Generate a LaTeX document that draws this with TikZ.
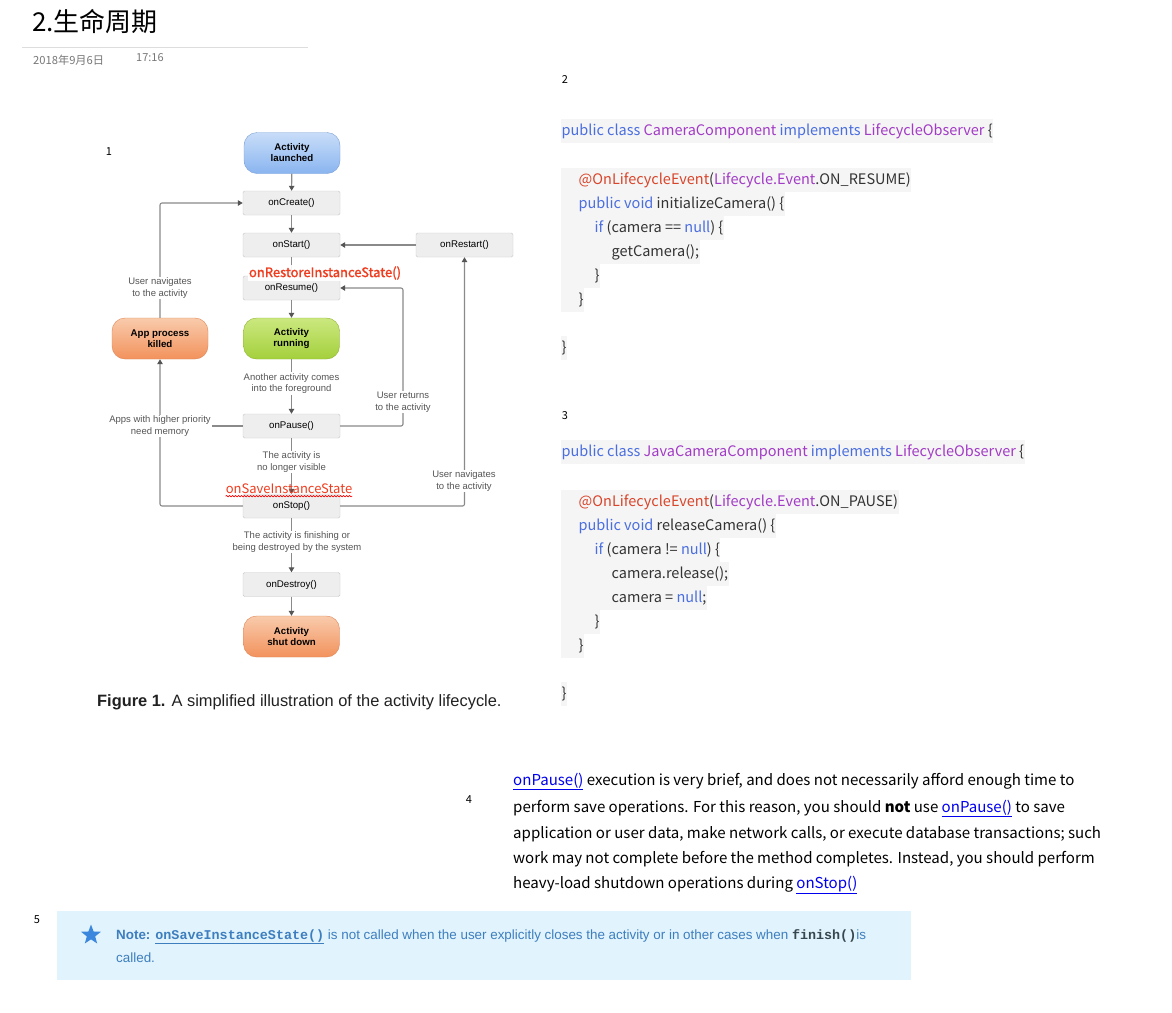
\documentclass[tikz,border=0pt]{standalone}
\usepackage{fontspec}
\setmainfont{Liberation Sans}
\newfontfamily\cjk{Noto Sans CJK SC}
\newfontfamily\cjkb[FakeBold=1.5]{Noto Sans CJK SC}
\newfontfamily\monof{Liberation Mono}
\usetikzlibrary{arrows.meta,shapes.geometric,calc,decorations.pathmorphing}
\definecolor{boxfill}{HTML}{EEEEEE}
\definecolor{boxline}{HTML}{C8C8C8}
\definecolor{linegray}{HTML}{8A8A8A}
\definecolor{tipgray}{HTML}{555555}
\definecolor{lblgray}{HTML}{555555}
\definecolor{kwblue}{HTML}{4A6EE0}
\definecolor{clspurple}{HTML}{A23BC6}
\definecolor{annred}{HTML}{D9452B}
\definecolor{plain}{HTML}{333333}
\definecolor{codebg}{HTML}{F5F5F5}
\definecolor{linkblue}{HTML}{0000EE}
\definecolor{notebg}{HTML}{E1F3FC}
\definecolor{notetext}{HTML}{3D7EBF}
\definecolor{starblue}{HTML}{3B87DD}
\definecolor{redlbl}{HTML}{F03C1E}
\definecolor{rulegray}{HTML}{DDDDDD}
\definecolor{dategray}{HTML}{777777}
\definecolor{captext}{HTML}{212121}
\definecolor{monodark}{HTML}{37474F}
\definecolor{bpline}{HTML}{7A9FD6}
\definecolor{bptop}{HTML}{C8DDF8}
\definecolor{bpbot}{HTML}{8AB4F0}
\definecolor{gpline}{HTML}{8FB22F}
\definecolor{gptop}{HTML}{CBE87F}
\definecolor{gpbot}{HTML}{A4D03C}
\definecolor{opline}{HTML}{E08454}
\definecolor{optop}{HTML}{F9CBAC}
\definecolor{opbot}{HTML}{F2925C}
\tikzset{
  box/.style={draw=boxline, fill=boxfill, rounded corners=1.5pt, minimum width=97pt, minimum height=24pt, inner sep=0pt, font=\fontsize{9.7}{11}\selectfont},
  pill/.style={draw, rounded corners=13pt, minimum width=96pt, minimum height=41pt, inner sep=0pt, align=center, font=\bfseries\fontsize{9.7}{11}\selectfont},
  bluepill/.style={pill, draw=bpline, top color=bptop, bottom color=bpbot},
  greenpill/.style={pill, draw=gpline, top color=gptop, bottom color=gpbot},
  orangepill/.style={pill, draw=opline, top color=optop, bottom color=opbot},
  lbl/.style={font=\fontsize{9.5}{11.8}\selectfont, text=lblgray, align=center, fill=white, inner sep=1pt},
  conn/.style={draw=linegray, line width=1.1pt, rounded corners=2pt},
  arr/.style={conn, -{Triangle[length=5pt,width=5.5pt,color=tipgray]}},
  codeln/.style={anchor=west, fill=codebg, inner ysep=0pt, inner xsep=0.5pt, minimum height=24pt, text=plain, font=\cjk\fontsize{14.5}{17}\selectfont},
  para/.style={anchor=base west, inner sep=0pt, font=\cjk\fontsize{15.05}{18}\selectfont, text=black},
  num/.style={font=\cjk\fontsize{11}{13}\selectfont, text=black, inner sep=0pt},
}
\newcommand{\kw}[1]{\textcolor{kwblue}{#1}}
\newcommand{\cls}[1]{\textcolor{clspurple}{#1}}
\newcommand{\ann}[1]{\textcolor{annred}{#1}}
\newcommand{\lnk}[1]{\textcolor{linkblue}{\underline{#1}}}
\begin{document}
\begin{tikzpicture}[x=1pt,y=-1pt]
\useasboundingbox[fill=white] (0,0) rectangle (1172,1012);

% ---------- header ----------
\node[anchor=west, inner sep=0pt, font=\cjk\fontsize{26}{30}\selectfont] (title) at (32,22) {2.生命周期};
\draw[rulegray, line width=0.8pt] (22,47) -- (308,47);
\node[anchor=west, inner sep=0pt, text=dategray, font=\cjk\fontsize{11.2}{13}\selectfont] (date) at (33,60) {2018年9月6日};
\node[anchor=west, inner sep=0pt, text=dategray, font=\cjk\fontsize{11}{13}\selectfont] (time) at (136,58) {17:16};

% ---------- numbers ----------
\node[num] (n1) at (109,152) {1};
\node[num] (n2) at (565,80) {2};
\node[num] (n3) at (565,416) {3};
\node[num] (n4) at (469,800) {4};
\node[num] (n5) at (37,920) {5};

% ---------- lifecycle diagram ----------
\node[bluepill] (launched) at (292,153) {Activity\\launched};
\node[box] (create) at (291.5,203) {onCreate()};
\node[box] (start) at (291.5,245) {onStart()};
\node[box] (restart) at (464.5,245) {onRestart()};
\node[box] (resume) at (291.5,288) {onResume()};
\node[greenpill] (running) at (291.5,338.5) {Activity\\running};
\node[orangepill] (killed) at (160,338.5) {App process\\killed};
\node[box] (pause) at (291.5,426) {onPause()};
\node[box] (stop) at (291.5,506) {onStop()};
\node[box] (destroy) at (291.5,584.5) {onDestroy()};
\node[orangepill] (shut) at (291.5,636.5) {Activity\\shut down};

\coordinate (rr) at (403,288);
\coordinate (pl) at (160,426);

\draw[arr] (launched) -- (create);
\draw[arr] (create) -- (start);
\draw[arr] (start) -- (resume);
\draw[arr] (resume) -- (running);
\draw[arr] (running) -- (pause);
\draw[arr] (pause) -- (stop);
\draw[arr] (stop) -- (destroy);
\draw[arr] (destroy) -- (shut);
\draw[arr] (restart) -- (start);
\draw[arr] (pause.east) -| (rr) -- (resume.east);
\draw[arr] (stop.east) -| (restart.south);
\draw[arr] (stop.west) -| (killed.south);
\draw[conn] (pause.west) -- (pl);
\draw[arr] (killed.north) |- (create.west);

\node[lbl] (l1) at (160,288) {User navigates\\to the activity};
\node[lbl] (l2) at (291.5,383.5) {Another activity comes\\into the foreground};
\node[lbl] (l3) at (403,402) {User returns\\to the activity};
\node[lbl] (l4) at (160,426) {Apps with higher priority\\need memory};
\node[lbl] (l5) at (291.5,462) {The activity is\\no longer visible};
\node[lbl] (l6) at (464,481) {User navigates\\to the activity};
\node[lbl] (l7) at (297,542) {The activity is finishing or\\being destroyed by the system};

\node[fill=white, fill opacity=0.9, text opacity=1, inner xsep=1pt, inner ysep=1.5pt, text=redlbl, font=\cjkb\fontsize{13}{14}\selectfont] (restore) at (325,273) {onRestoreInstanceState()};
\node[inner sep=0pt, text=redlbl, font=\cjk\fontsize{13}{14}\selectfont] (save) at (289,489) {onSaveInstanceState};
\draw[red, line width=0.6pt, decorate, decoration={snake, amplitude=0.7pt, segment length=3pt}] ($(save.south west)+(0,2)$) -- ($(save.south east)+(0,2)$);

\node[anchor=base west, inner sep=0pt, text=captext, font=\fontsize{16.4}{19}\selectfont] (cap) at (97,706) {\textbf{Figure 1.} A simplified illustration of the activity lifecycle.};

% ---------- code block 2 ----------
\node[codeln] (a1) at (561,131) {\kw{public class} \cls{CameraComponent} \kw{implements} \cls{LifecycleObserver} \{};
\node[codeln] (a2) at (561,180) {\hspace{17pt}\ann{@OnLifecycleEvent}(\cls{Lifecycle.Event}.ON\_RESUME)};
\node[codeln] (a3) at (561,204) {\hspace{17pt}\kw{public void} initializeCamera() \{};
\node[codeln] (a4) at (561,228) {\hspace{33pt}\kw{if} (camera == \kw{null}) \{};
\node[codeln] (a5) at (561,252) {\hspace{50pt}getCamera();};
\node[codeln] (a6) at (561,276) {\hspace{33pt}\}};
\node[codeln] (a7) at (561,300) {\hspace{17pt}\}};
\node[codeln] (a8) at (561,348) {\}};

% ---------- code block 3 ----------
\node[codeln] (b1) at (561,452) {\kw{public class} \cls{JavaCameraComponent} \kw{implements} \cls{LifecycleObserver} \{};
\node[codeln] (b2) at (561,502) {\hspace{17pt}\ann{@OnLifecycleEvent}(\cls{Lifecycle.Event}.ON\_PAUSE)};
\node[codeln] (b3) at (561,526) {\hspace{17pt}\kw{public void} releaseCamera() \{};
\node[codeln] (b4) at (561,550) {\hspace{33pt}\kw{if} (camera != \kw{null}) \{};
\node[codeln] (b5) at (561,574) {\hspace{50pt}camera.release();};
\node[codeln] (b6) at (561,598) {\hspace{50pt}camera = \kw{null};};
\node[codeln] (b7) at (561,622) {\hspace{33pt}\}};
\node[codeln] (b8) at (561,646) {\hspace{17pt}\}};
\node[codeln] (b9) at (561,694) {\}};

% ---------- paragraph 4 ----------
\node[para] (p1) at (513,785) {\lnk{onPause()} execution is very brief, and does not necessarily afford enough time to};
\node[para] (p2) at (513,812) {perform save operations. For this reason, you should \textbf{not} use \lnk{onPause()} to save};
\node[para] (p3) at (513,838) {application or user data, make network calls, or execute database transactions; such};
\node[para] (p4) at (513,863) {work may not complete before the method completes. Instead, you should perform};
\node[para] (p5) at (513,888) {heavy-load shutdown operations during \lnk{onStop()}};

% ---------- note 5 ----------
\node[anchor=north west, fill=notebg, minimum width=854pt, minimum height=69pt, inner sep=0pt] (note) at (57,911) {};
\node[star, star points=5, star point ratio=2.4, fill=starblue, minimum size=21pt, inner sep=0pt] (star) at (91,935) {};
\node[anchor=base west, inner sep=0pt, text=notetext, font=\fontsize{13.4}{15}\selectfont] (nt1) at (116,939) {\textbf{Note:} \textbf{\monof\underline{onSaveInstanceState()}} is not called when the user explicitly closes the activity or in other cases when \textcolor{monodark}{\textbf{\monof finish()}}is};
\node[anchor=base west, inner sep=0pt, text=notetext, font=\fontsize{13.4}{15}\selectfont] (nt2) at (116,962) {called.};
\end{tikzpicture}
\end{document}
